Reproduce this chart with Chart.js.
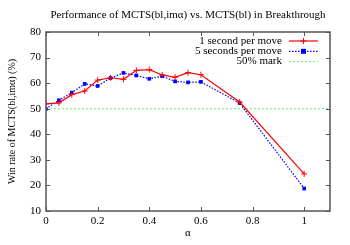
<!DOCTYPE html>
<html>
<head>
<meta charset="utf-8">
<script src="https://cdn.jsdelivr.net/npm/chart.js@4"></script>
<style>
  html, body { margin: 0; padding: 0; background: #fff; }
  canvas { display: block; }
</style>
</head>
<body>
<canvas id="chart" width="350" height="245"></canvas>
<script>
// データ
const alphaValues = [0, 0.05, 0.1, 0.15, 0.2, 0.25, 0.3, 0.35, 0.4, 0.45, 0.5, 0.55, 0.6, 0.75, 1];
const oneSecond   = [51.9, 52.3, 55.5, 56.9, 61.2, 62.1, 61.5, 65.0, 65.3, 63.2, 62.3, 64.1, 63.3, 52.6, 24.5];
const fiveSeconds = [49.9, 53.3, 56.3, 59.7, 58.9, 62.0, 64.0, 63.0, 61.7, 62.7, 60.7, 60.3, 60.5, 52.2, 18.8];
const markValue = 50;
const xTicks = [0, 0.2, 0.4, 0.6, 0.8, 1];
const yTicks = [10, 20, 30, 40, 50, 60, 70, 80];
const xMin = 0, xMax = 1.1, yMin = 10, yMax = 80;

const titleText = 'Performance of MCTS(bl,imα) vs. MCTS(bl) in Breakthrough';
const yTitle = 'Win rate of MCTS(bl,imα) (%)';
const xTitle = 'α';
const legendLabels = ['1 second per move', '5 seconds per move', '50% mark'];

const FONT = '"Liberation Serif", "Times New Roman", serif';

const toPoints = (ys) => alphaValues.map((x, i) => ({ x: x, y: ys[i] }));

// gnuplot風の枠・目盛り・凡例・タイトル
const gnuplotFrame = {
  id: 'gnuplotFrame',
  afterDraw(chart) {
    const ctx = chart.ctx;
    const a = chart.chartArea;
    const xs = chart.scales.x;
    const ys = chart.scales.y;
    ctx.save();

    // タイトル
    ctx.fillStyle = '#000';
    ctx.font = '11px ' + FONT;
    ctx.textAlign = 'center';
    ctx.textBaseline = 'middle';
    ctx.fillText(titleText, (a.left + a.right) / 2, 15);

    // 目盛り (内向き、上下左右)
    ctx.strokeStyle = '#555';
    ctx.lineWidth = 1;
    ctx.beginPath();
    xTicks.forEach(v => {
      const px = Math.round(xs.getPixelForValue(v)) + 0.5;
      ctx.moveTo(px, a.bottom); ctx.lineTo(px, a.bottom - 4);
      ctx.moveTo(px, a.top); ctx.lineTo(px, a.top + 4);
    });
    yTicks.forEach(v => {
      const py = Math.round(ys.getPixelForValue(v)) + 0.5;
      ctx.moveTo(a.left, py); ctx.lineTo(a.left + 4, py);
      ctx.moveTo(a.right, py); ctx.lineTo(a.right - 4, py);
    });
    ctx.stroke();

    // 枠
    ctx.strokeStyle = '#555';
    ctx.lineWidth = 1.5;
    ctx.strokeRect(a.left, a.top, a.right - a.left, a.bottom - a.top);

    // 凡例
    const styles = chart.data.datasets;
    ctx.font = '11px ' + FONT;
    ctx.textAlign = 'right';
    ctx.textBaseline = 'middle';
    legendLabels.forEach((label, i) => {
      const y = a.top + 9 + i * 10.3;
      const x0 = a.right - 41, x1 = a.right - 12;
      ctx.fillStyle = '#000';
      ctx.fillText(label, a.right - 48, y);
      const ds = styles[i];
      ctx.strokeStyle = ds.borderColor;
      ctx.lineWidth = ds.borderWidth;
      ctx.setLineDash(ds.borderDash || []);
      ctx.beginPath();
      ctx.moveTo(x0, y); ctx.lineTo(x1, y);
      ctx.stroke();
      ctx.setLineDash([]);
      const mx = (x0 + x1) / 2;
      if (i === 0) {
        ctx.lineWidth = 1;
        ctx.beginPath();
        ctx.moveTo(mx - 3, y); ctx.lineTo(mx + 3, y);
        ctx.moveTo(mx, y - 3); ctx.lineTo(mx, y + 3);
        ctx.stroke();
      } else if (i === 1) {
        ctx.fillStyle = ds.pointBackgroundColor;
        ctx.fillRect(mx - 2.5, y - 2.5, 5, 5);
      }
    });

    ctx.restore();
  }
};

const ctx = document.getElementById('chart').getContext('2d');
new Chart(ctx, {
  type: 'line',
  data: {
    datasets: [
      {
        label: legendLabels[0],
        data: toPoints(oneSecond),
        borderColor: '#ff0000',
        borderWidth: 1.2,
        pointStyle: 'cross',
        pointRadius: 3,
        pointBorderWidth: 1,
        pointBorderColor: '#ff0000',
        fill: false,
        tension: 0
      },
      {
        label: legendLabels[1],
        data: toPoints(fiveSeconds),
        borderColor: '#0000ff',
        borderWidth: 1.2,
        borderDash: [1.5, 1.5],
        pointStyle: 'rect',
        pointRadius: 2.6,
        pointBorderWidth: 0,
        pointBackgroundColor: '#0000ff',
        pointBorderColor: '#0000ff',
        fill: false,
        tension: 0
      },
      {
        label: legendLabels[2],
        data: [{ x: xMin, y: markValue }, { x: xMax, y: markValue }],
        borderColor: '#66ee66',
        borderWidth: 1,
        borderDash: [2, 2],
        pointRadius: 0,
        fill: false
      }
    ]
  },
  options: {
    responsive: false,
    animation: false,
    devicePixelRatio: 1,
    layout: { padding: { top: 32, right: 20, left: 0, bottom: 0 } },
    plugins: {
      legend: { display: false },
      tooltip: { enabled: false },
      title: { display: false }
    },
    scales: {
      x: {
        type: 'linear',
        min: xMin,
        max: xMax,
        afterBuildTicks: (scale) => { scale.ticks = xTicks.map(v => ({ value: v })); },
        afterFit: (scale) => { scale.height = 34; },
        grid: { display: false, drawTicks: false },
        border: { display: false },
        ticks: {
          color: '#000',
          font: { family: FONT, size: 11 },
          padding: 4,
          maxRotation: 0,
          callback: (v) => String(v)
        },
        title: {
          display: true,
          text: xTitle,
          color: '#000',
          font: { family: FONT, size: 11 },
          padding: { top: 0, bottom: 5 }
        }
      },
      y: {
        min: yMin,
        max: yMax,
        afterBuildTicks: (scale) => { scale.ticks = yTicks.map(v => ({ value: v })); },
        afterFit: (scale) => { scale.width = 46; },
        grid: { display: false, drawTicks: false },
        border: { display: false },
        ticks: {
          color: '#000',
          font: { family: FONT, size: 11 },
          padding: 5
        },
        title: {
          display: true,
          text: yTitle,
          color: '#000',
          font: { family: FONT, size: 10 },
          padding: { top: 6, bottom: 0 }
        }
      }
    }
  },
  plugins: [gnuplotFrame]
});
</script>
</body>
</html>
